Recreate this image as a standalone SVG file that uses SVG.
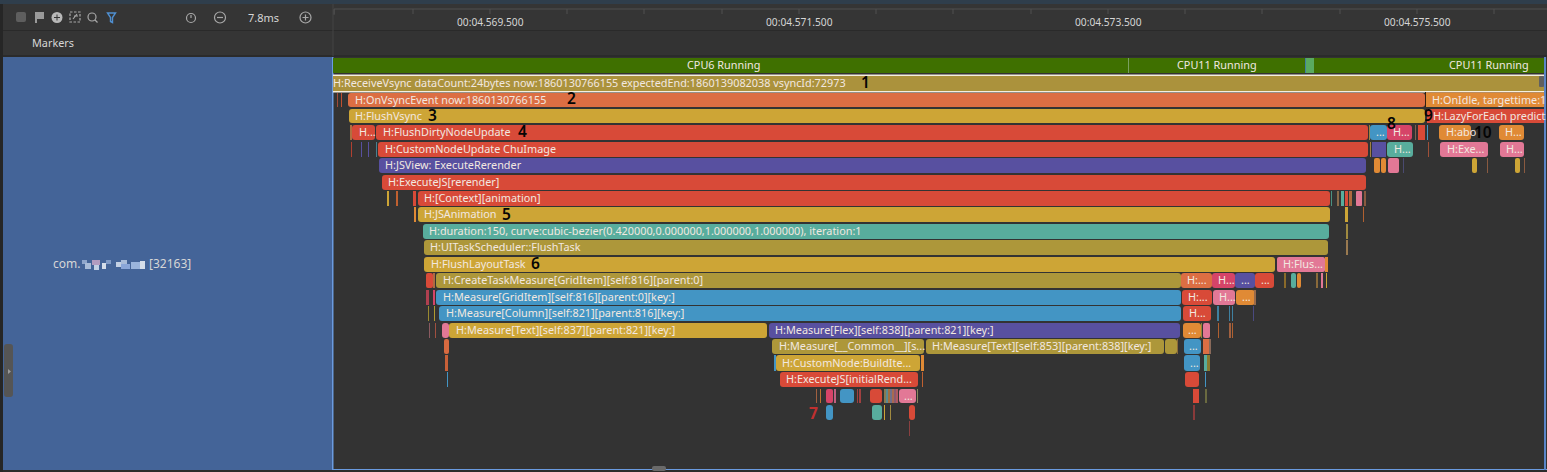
<svg xmlns="http://www.w3.org/2000/svg" width="1547" height="472" viewBox="0 0 1547 472">
<style>
text{font-family:"Noto Sans","Liberation Sans",sans-serif;font-size:10.85px;fill:#f2e8e0}
.h{fill:#d6d6d6}
.t{font-size:10.2px}
.n{font-size:15.5px;fill:#050505;font-weight:600}
.or{fill:#dc6e43}.ye{fill:#cda536}.re{fill:#d84a38}.bl{fill:#4395c4}.pu{fill:#5850a0}.te{fill:#58ad9d}.ol{fill:#ad973a}.pk{fill:#e27896}.am{fill:#e08a35}.ro{fill:#d64468}
.ic{fill:none;stroke:#a8a8a8;stroke-width:1.2}
</style>
<rect width="1547" height="472" fill="#333333"/>
<g id="chrome">
<rect width="1547" height="4" fill="#2f3e4c"/>
<rect y="4" width="1547" height="26" fill="#353535"/>
<rect y="30" width="1547" height="1" fill="#2a2a2a"/>
<rect y="31" width="333" height="25" fill="#353535"/>
<rect y="55" width="1547" height="2" fill="#2b2b2b"/>
<rect x="0" y="4" width="3" height="468" fill="#262626"/>
<rect x="3" y="57" width="330" height="413" fill="#446498"/>
<rect x="332" y="57" width="1.500" height="413" fill="#6a9be0"/>
<rect x="333" y="469" width="1214" height="1.500" fill="#6a9be0"/>
<rect x="1544" y="57" width="2" height="413" fill="#5a85c8"/>
<rect x="3" y="470" width="1544" height="2" fill="#2b2b2b"/>
<rect x="652" y="466" width="14" height="5" rx="2" fill="#6a6a6a"/>
<rect x="4" y="344" width="9" height="53" rx="3" fill="#555555"/>
<path d="M8 369l3 2.500-3 2.500z" fill="#9a9a9a"/>
</g>
<g id="toolbar">
<rect x="16" y="12" width="10" height="10" rx="2" fill="#5e5e5e"/>
<path d="M35 23V12h9v7h-7v4z" fill="#9a9a9a"/>
<circle cx="57" cy="17.500" r="5.500" fill="#b8b8b8"/>
<path d="M54 17.500h6M57 14.500v6" stroke="#353535" fill="none"/>
<rect x="70" y="12" width="10" height="10" class="ic" stroke-dasharray="2.500 1.500"/>
<path d="M73 19l4-5M74 16h4" class="ic"/>
<circle cx="92" cy="17" r="4" class="ic"/>
<path d="M95 20l2.500 2.500" class="ic"/>
<path d="M107.500 13h8l-3 4.500v5l-2-1v-4z" fill="none" stroke="#4f8fd0" stroke-width="1.400"/>
<circle cx="191" cy="18" r="4.500" class="ic"/>
<path d="M191 15v3" class="ic"/>
<circle cx="220" cy="17.500" r="5.500" class="ic"/>
<path d="M217 17.500h6" class="ic"/>
<text x="248" y="22" class="h" style="font-size:11px">7.8ms</text>
<circle cx="305.500" cy="17.500" r="5.500" class="ic"/>
<path d="M302.500 17.500h6M305.500 14.500v6" class="ic"/>
</g>
<g id="ruler">
<path d="M334 15V9H1547M334 9v5M413 9v5M490 9v5M567 9v5M644 9v5M722 9v5M799 9v5M876 9v5M953 9v5M1031 9v5M1108 9v5M1185 9v5M1262 9v5M1340 9v5M1417 9v5M1494 9v5" fill="none" stroke="#505050"/>
<text x="457" y="26" class="h t">00:04.569.500</text>
<text x="766" y="26" class="h t">00:04.571.500</text>
<text x="1075" y="26" class="h t">00:04.573.500</text>
<text x="1384" y="26" class="h t">00:04.575.500</text>
<text x="32" y="47" class="h">Markers</text>
<path d="M333 4V56" stroke="#444444"/>
</g>
<g id="process-label">
<text x="53" y="268" class="h" style="font-size:12px">com.</text>
<rect x="82" y="260" width="5" height="4" fill="#8fa6cc"/>
<rect x="85" y="263" width="6" height="6" fill="#a9bcd9"/>
<rect x="92" y="260" width="8" height="5" fill="#b39cc0"/>
<rect x="94" y="265" width="5" height="5" fill="#c3d0e4"/>
<rect x="102" y="263" width="4" height="6" fill="#d5deea"/>
<rect x="106" y="260" width="5" height="4" fill="#7f9ac6"/>
<rect x="116" y="262" width="5" height="5" fill="#c3d0e4"/>
<rect x="121" y="260" width="6" height="4" fill="#a9bcd9"/>
<rect x="121" y="264" width="9" height="5" fill="#8aa6d8"/>
<rect x="131" y="262" width="9" height="7" fill="#9ab4dc"/>
<rect x="140" y="261" width="5" height="8" fill="#d5deea"/>
<text x="149" y="268" class="h" style="font-size:12px">[32163]</text>
</g>
<g id="cpu-track">
<rect x="333" y="58" width="1211" height="15" fill="#3f7000"/>
<rect x="1128" y="58" width="1" height="15" fill="#7aa060"/>
<rect x="1306" y="58" width="8" height="15" fill="#5aaa60"/>
<rect x="1305" y="58" width="1" height="15" fill="#3f80a0"/>
<text x="687" y="69" fill="#e0e0e0">CPU6 Running</text>
<text x="1177" y="69" fill="#e0e0e0">CPU11 Running</text>
<text x="1449" y="69" fill="#e0e0e0">CPU11 Running</text>
</g>
<g id="slices">
<g id="node-1"><rect x="333" y="74.500" width="1211" height="1.500" fill="#f5efe0"/><rect x="333" y="76" width="1211" height="15" fill="#ab923c"/><rect x="333" y="91" width="1211" height="1.500" fill="#f5efe0"/><rect x="1539" y="76" width="5" height="11" rx="1" fill="#606060"/><text x="333" y="87">H:ReceiveVsync dataCount:24bytes now:1860130766155 expectedEnd:1860139082038 vsyncId:72973</text></g>
<g id="node-2"><rect x="337" y="93" width="1" height="14" fill="#a04a38"/><rect x="341" y="93" width="1" height="14" fill="#c05030"/><rect x="348" y="93" width="1077" height="14" rx="3" class="or"/><text x="355" y="104">H:OnVsyncEvent now:1860130766155</text></g>
<g id="node-2b"><rect x="1426" y="92.500" width="118" height="14.500" class="am"/><rect x="1425" y="92" width="1" height="15" fill="#302010"/><text x="1432" y="104">H:OnIdle, targettime:1</text></g>
<g id="node-3"><rect x="349" y="109" width="1076" height="14" rx="3" class="ye"/><text x="355" y="120">H:FlushVsync</text></g>
<g id="node-3b"><rect x="1427" y="109" width="117" height="14" class="re"/><text x="1433" y="120">H:LazyForEach predict</text></g>
<g id="node-4a"><rect x="350" y="125" width="2" height="15" fill="#b07040"/><rect x="352" y="125" width="23" height="15" rx="3" class="re"/><text x="359" y="136">H...</text></g>
<g id="node-4"><rect x="376" y="125" width="992" height="15" rx="3" class="re"/><text x="383" y="136">H:FlushDirtyNodeUpdate</text></g>
<g id="row4-extra">
<rect x="1369" y="125" width="1" height="15" fill="#a08040"/>
<rect x="1370" y="125" width="17" height="15" rx="3" class="bl"/><text x="1376" y="136">...</text>
<rect x="1387" y="125" width="25" height="15" rx="3" class="ro"/><text x="1393" y="136">H...</text>
<rect x="1415" y="125" width="1" height="15" fill="#806050"/>
<rect x="1418" y="125" width="7" height="15" class="re"/>
<rect x="1427" y="125" width="1" height="15" fill="#4395c4"/>
<rect x="1439" y="125" width="32" height="15" rx="3" class="am"/><text x="1446" y="136">H:abo</text>
<rect x="1499" y="125" width="25" height="15" rx="3" class="am"/><text x="1505" y="136">H...</text>
</g>
<g id="node-5a"><rect x="351" y="142" width="1" height="15" fill="#b04030"/><rect x="361" y="142" width="1" height="15" fill="#5850a0"/><rect x="368" y="142" width="1" height="15" fill="#5850a0"/><rect x="376" y="142" width="1" height="15" fill="#4a8090"/></g>
<g id="node-5"><rect x="378" y="142" width="990" height="15" rx="3" class="re"/><text x="385" y="153">H:CustomNodeUpdate ChuImage</text></g>
<g id="row5-extra">
<rect x="1370" y="142" width="1" height="15" fill="#a08040"/>
<rect x="1372" y="142" width="14" height="15" class="pu"/>
<rect x="1387" y="142" width="26" height="15" rx="3" class="te"/><text x="1394" y="153">H...</text>
<rect x="1428" y="142" width="1" height="15" fill="#a05038"/>
<rect x="1440" y="142" width="48" height="15" rx="3" class="pk"/><text x="1447" y="153">H:Exe...</text>
<rect x="1500" y="142" width="24" height="15" rx="3" class="pk"/><text x="1506" y="153">H...</text>
</g>
<g id="node-6"><rect x="379" y="158" width="987" height="15" rx="3" class="pu"/><text x="385" y="169">H:JSView: ExecuteRerender</text></g>
<g id="row6-extra">
<rect x="1374" y="158" width="6" height="15" rx="2" class="am"/><rect x="1381" y="158" width="5" height="15" rx="2" class="am"/><rect x="1388" y="158" width="11" height="15" rx="2" class="pk"/><rect x="1403" y="158" width="1" height="15" fill="#4a4a70"/>
<rect x="1472" y="158" width="5" height="15" rx="2" class="ye"/><rect x="1487" y="158" width="1" height="15" fill="#8a5a40"/><rect x="1515" y="158" width="5" height="15" rx="2" class="ye"/><rect x="1524" y="158" width="1" height="15" fill="#8a5a40"/>
</g>
<g id="node-7"><rect x="382" y="175" width="984" height="15" rx="3" class="re"/><text x="388" y="186">H:ExecuteJS[rerender]</text></g>
<g id="row8">
<rect x="387" y="191" width="2" height="15" class="ye"/><rect x="396" y="191" width="2" height="15" fill="#c06030"/>
<rect x="413" y="191" width="3" height="15" class="re"/>
<rect x="418" y="191" width="912" height="15" rx="3" class="re"/><text x="424" y="202">H:[Context][animation]</text>
<rect x="1331" y="191" width="1" height="15" fill="#4a9080"/><rect x="1337" y="191" width="2" height="15" fill="#8a6a4a"/><rect x="1341" y="191" width="3" height="15" class="te"/><rect x="1345" y="191" width="3" height="15" class="re"/><rect x="1349" y="191" width="3" height="15" fill="#b06a40"/><rect x="1356" y="191" width="6" height="15" rx="1" class="pk"/><rect x="1364" y="191" width="2" height="15" fill="#8a5a40"/>
</g>
<g id="node-5b"><rect x="414" y="207" width="2" height="15" class="am"/><rect x="418" y="207" width="912" height="15" rx="3" class="ye"/><text x="424" y="218">H:JSAnimation</text>
<rect x="1345" y="207" width="3" height="15" class="ye"/><rect x="1363" y="207" width="1" height="15" fill="#b06030"/></g>
<g id="node-9"><rect x="423" y="224" width="906" height="15" rx="3" class="te"/><text x="429" y="235">H:duration:150, curve:cubic-bezier(0.420000,0.000000,1.000000,1.000000), iteration:1</text><rect x="1346" y="224" width="2" height="15" fill="#a08a40"/></g>
<g id="node-10"><rect x="424" y="240" width="904" height="15" rx="3" class="ol"/><text x="430" y="251">H:UITaskScheduler::FlushTask</text><rect x="1346" y="240" width="2" height="15" fill="#9a7a50"/></g>
<g id="node-11"><rect x="424" y="257" width="851" height="15" rx="3" class="ye"/><text x="431" y="268">H:FlushLayoutTask</text>
<rect x="1277" y="257" width="48" height="15" rx="2" class="pk"/><text x="1283" y="268">H:Flus...</text><rect x="1325" y="257" width="3" height="15" class="am"/></g>
<g id="row13">
<rect x="426" y="273" width="7" height="15" rx="2" class="re"/><rect x="433" y="273" width="2" height="15" fill="#b06a40"/>
<rect x="436" y="273" width="745" height="15" rx="3" class="ol"/><text x="443" y="284">H:CreateTaskMeasure[GridItem][self:816][parent:0]</text>
<rect x="1181" y="273" width="31" height="15" rx="3" class="or"/><text x="1187" y="284">H:...</text>
<rect x="1212" y="273" width="23" height="15" rx="3" class="ro"/><text x="1218" y="284">H...</text>
<rect x="1235" y="273" width="20" height="15" rx="3" class="pu"/><text x="1241" y="284">...</text>
<rect x="1255" y="273" width="19" height="15" rx="3" class="re"/><text x="1261" y="284">...</text>
<rect x="1284" y="273" width="2" height="15" fill="#8a6a2a"/><rect x="1291" y="273" width="5" height="15" rx="2" class="te"/><rect x="1297" y="273" width="4" height="15" rx="2" class="am"/><rect x="1316" y="273" width="2" height="15" fill="#8a6a3a"/><rect x="1321" y="273" width="2" height="15" class="pk"/><rect x="1326" y="273" width="1" height="15" class="ye"/>
</g>
<g id="row14">
<rect x="426" y="290" width="3" height="15" fill="#b04050"/><rect x="433" y="290" width="2" height="15" class="ro"/>
<rect x="436" y="290" width="745" height="15" rx="3" class="bl"/><text x="443" y="301">H:Measure[GridItem][self:816][parent:0][key:]</text>
<rect x="1182" y="290" width="30" height="15" rx="3" class="re"/><text x="1188" y="301">H:...</text>
<rect x="1213" y="290" width="22" height="15" rx="3" class="pk"/><text x="1219" y="301">H...</text>
<rect x="1236" y="290" width="19" height="15" rx="3" class="am"/><text x="1242" y="301">...</text><rect x="1254" y="290" width="2" height="15" fill="#9a6a4a"/>
</g>
<g id="row15">
<rect x="428" y="306" width="1" height="15" fill="#9a8a30"/><rect x="434" y="306" width="1" height="15" fill="#b09a30"/>
<rect x="439" y="306" width="742" height="15" rx="3" class="bl"/><text x="446" y="317">H:Measure[Column][self:821][parent:816][key:]</text>
<rect x="1183" y="306" width="28" height="15" rx="3" class="re"/><text x="1189" y="317">H...</text>
<rect x="1217" y="306" width="2" height="15" fill="#3f80a0"/><rect x="1229" y="306" width="1" height="15" fill="#3f80a0"/><rect x="1232" y="306" width="1" height="15" fill="#3f80a0"/><rect x="1253" y="306" width="1" height="15" fill="#4a4a80"/>
</g>
<g id="row16">
<rect x="429" y="323" width="1" height="15" fill="#8a5a60"/><rect x="435" y="323" width="1" height="15" fill="#a05040"/>
<rect x="442" y="323" width="7" height="15" rx="3" class="pk"/>
<rect x="449" y="323" width="318" height="15" rx="3" class="ye"/><text x="456" y="334">H:Measure[Text][self:837][parent:821][key:]</text>
<rect x="769" y="323" width="411" height="15" rx="3" class="pu"/><text x="775" y="334">H:Measure[Flex][self:838][parent:821][key:]</text>
<rect x="1183" y="323" width="18" height="15" rx="3" class="am"/><text x="1188" y="334">...</text>
<rect x="1201" y="323" width="1" height="15" fill="#8a8a40"/><rect x="1203" y="323" width="7" height="15" rx="2" class="pk"/>
<rect x="1218" y="323" width="1" height="15" fill="#b06030"/><rect x="1229" y="323" width="2" height="15" fill="#a06040"/><rect x="1232" y="323" width="1" height="15" fill="#b06030"/>
</g>
<g id="row17">
<rect x="444" y="339" width="5" height="15" rx="2" fill="#d86a40"/>
<rect x="772" y="339" width="152" height="15" rx="3" class="ol"/><text x="779" y="350">H:Measure[__Common__][s...</text>
<rect x="926" y="339" width="238" height="15" rx="3" class="ol"/><text x="932" y="350">H:Measure[Text][self:853][parent:838][key:]</text>
<rect x="1165" y="339" width="12" height="15" rx="3" class="ol"/><rect x="1177" y="339" width="1" height="15" fill="#8a6a3a"/>
<rect x="1184" y="339" width="17" height="15" rx="3" class="bl"/><text x="1189" y="350">...</text>
<rect x="1203" y="339" width="6" height="15" class="or"/><rect x="1209" y="339" width="2" height="15" fill="#8a6a5a"/>
</g>
<g id="row18">
<rect x="445" y="355" width="3" height="16" fill="#c86038"/>
<rect x="774" y="355" width="2" height="16" class="bl"/>
<rect x="776" y="355" width="144" height="16" rx="3" class="ye"/><text x="782" y="367">H:CustomNode:BuildIte...</text>
<rect x="921" y="355" width="3" height="16" class="am"/>
<rect x="1184" y="355" width="16" height="16" rx="3" class="bl"/><text x="1190" y="367">...</text>
<rect x="1204" y="355" width="3" height="16" class="te"/><rect x="1207" y="355" width="3" height="16" fill="#8a7a30"/>
</g>
<g id="row19">
<rect x="447" y="372" width="1" height="15" fill="#4395c4"/>
<rect x="780" y="372" width="138" height="15" rx="3" class="re"/><text x="786" y="383">H:ExecuteJS[initialRend...</text>
<rect x="922" y="372" width="1" height="15" fill="#c06030"/>
<rect x="1185" y="372" width="14" height="15" rx="3" class="re"/>
<rect x="1205" y="372" width="1" height="15" fill="#4395c4"/>
</g>
<g id="row20">
<rect x="816" y="389" width="1" height="14" fill="#a06040"/><rect x="820" y="389" width="1" height="14" fill="#c07030"/>
<rect x="826" y="389" width="7" height="14" rx="2" class="ro"/><rect x="834" y="389" width="2" height="14" fill="#c06080"/>
<rect x="840" y="389" width="14" height="14" rx="3" class="bl"/>
<rect x="857" y="389" width="1" height="14" fill="#a04040"/><rect x="859" y="389" width="2" height="14" fill="#a04040"/>
<rect x="870" y="389" width="12" height="14" rx="3" class="re"/>
<rect x="884" y="389" width="2" height="14" fill="#8a7a50"/><rect x="886" y="389" width="2" height="14" fill="#5a8a90"/><rect x="888" y="389" width="2" height="14" fill="#a07040"/><rect x="890" y="389" width="2" height="14" fill="#70708a"/><rect x="892" y="389" width="2" height="14" fill="#a86a50"/><rect x="894" y="389" width="2" height="14" fill="#8a5a70"/><rect x="896" y="389" width="2" height="14" fill="#b05a60"/>
<rect x="899" y="389" width="17" height="14" rx="3" class="pk"/><text x="904" y="400">...</text>
<rect x="917" y="389" width="1" height="14" fill="#8a8a60"/>
<rect x="1193" y="389" width="6" height="14" class="re"/><rect x="1205" y="389" width="2" height="14" fill="#6a6a40"/>
</g>
<g id="row21">
<rect x="826" y="405" width="7" height="15" rx="3" class="bl"/>
<rect x="872" y="405" width="10" height="15" rx="3" class="te"/>
<rect x="884" y="405" width="1" height="15" class="ye"/><rect x="890" y="405" width="1" height="15" fill="#a08a40"/>
<rect x="909" y="405" width="6" height="15" rx="3" class="re"/>
<rect x="1193" y="405" width="2" height="15" fill="#8a3a3a"/>
</g>
<rect x="909" y="421" width="1" height="15" fill="#8a4040"/>
</g>
<g id="connectors"></g>
<g id="annotations">
<text x="861" y="88" class="n">1</text>
<text x="567" y="104" class="n">2</text>
<text x="428" y="121" class="n">3</text>
<text x="518" y="137" class="n">4</text>
<text x="502" y="220" class="n">5</text>
<text x="531" y="269" class="n">6</text>
<text x="809" y="419" class="n" style="fill:#c03030;font-weight:700">7</text>
<text x="1387" y="129" class="n">8</text>
<text x="1424" y="121" class="n">9</text>
<text x="1474" y="138" class="n">10</text>
</g>
</svg>
